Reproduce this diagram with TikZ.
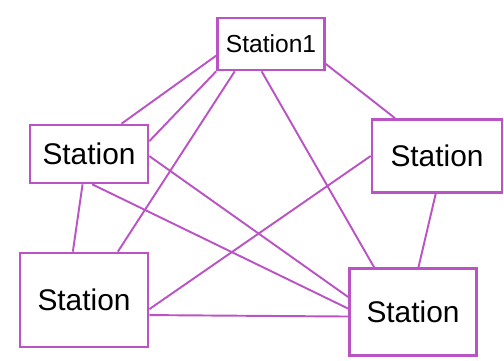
\documentclass[tikz,border=0pt]{standalone}
\usepackage{fontspec}
\setmainfont{Liberation Sans}
\definecolor{penpurple}{RGB}{186,84,196}
\begin{document}
\begin{tikzpicture}[x=0.02cm,y=-0.02cm,
  stationbox/.style={draw=penpurple, line width=1.5pt, inner sep=0pt, align=center, font=\fontsize{17}{20}\selectfont},
  link/.style={draw=penpurple, line width=1.1pt}]
\useasboundingbox (0,0) rectangle (504,361);
\node[stationbox, font=\fontsize{14}{17}\selectfont, minimum width=2.14cm, minimum height=1.04cm] (station1) at (271,44) {Station1};
\node[stationbox, minimum width=2.36cm, minimum height=1.16cm] (stationleft) at (89,154) {Station};
\node[stationbox, minimum width=2.60cm, minimum height=1.46cm] (stationright) at (437,156) {Station};
\node[stationbox, minimum width=2.56cm, minimum height=1.88cm] (stationbl) at (84,300) {Station};
\node[stationbox, minimum width=2.54cm, minimum height=1.74cm] (stationbr) at (413,312) {Station};
\draw[link] (station1.192) -- (stationleft.43);
\draw[link] (station1.south west) -- (stationleft.12);
\draw[link] (station1.217) -- (stationbl.55);
\draw[link] (station1.251) -- (stationbr.131);
\draw[link] (station1.340) -- (stationright.138);
\draw[link] (stationleft.-2) -- (stationbr.167);
\draw[link] (stationleft.276) -- (stationbr.177);
\draw[link] (stationleft.258) -- (stationbl.103);
\draw[link] (stationright.west) -- (stationbl.352);
\draw[link] (stationright.268) -- (stationbr.83);
\draw[link] (stationbl.347) -- (stationbr.184);
\end{tikzpicture}
\end{document}
